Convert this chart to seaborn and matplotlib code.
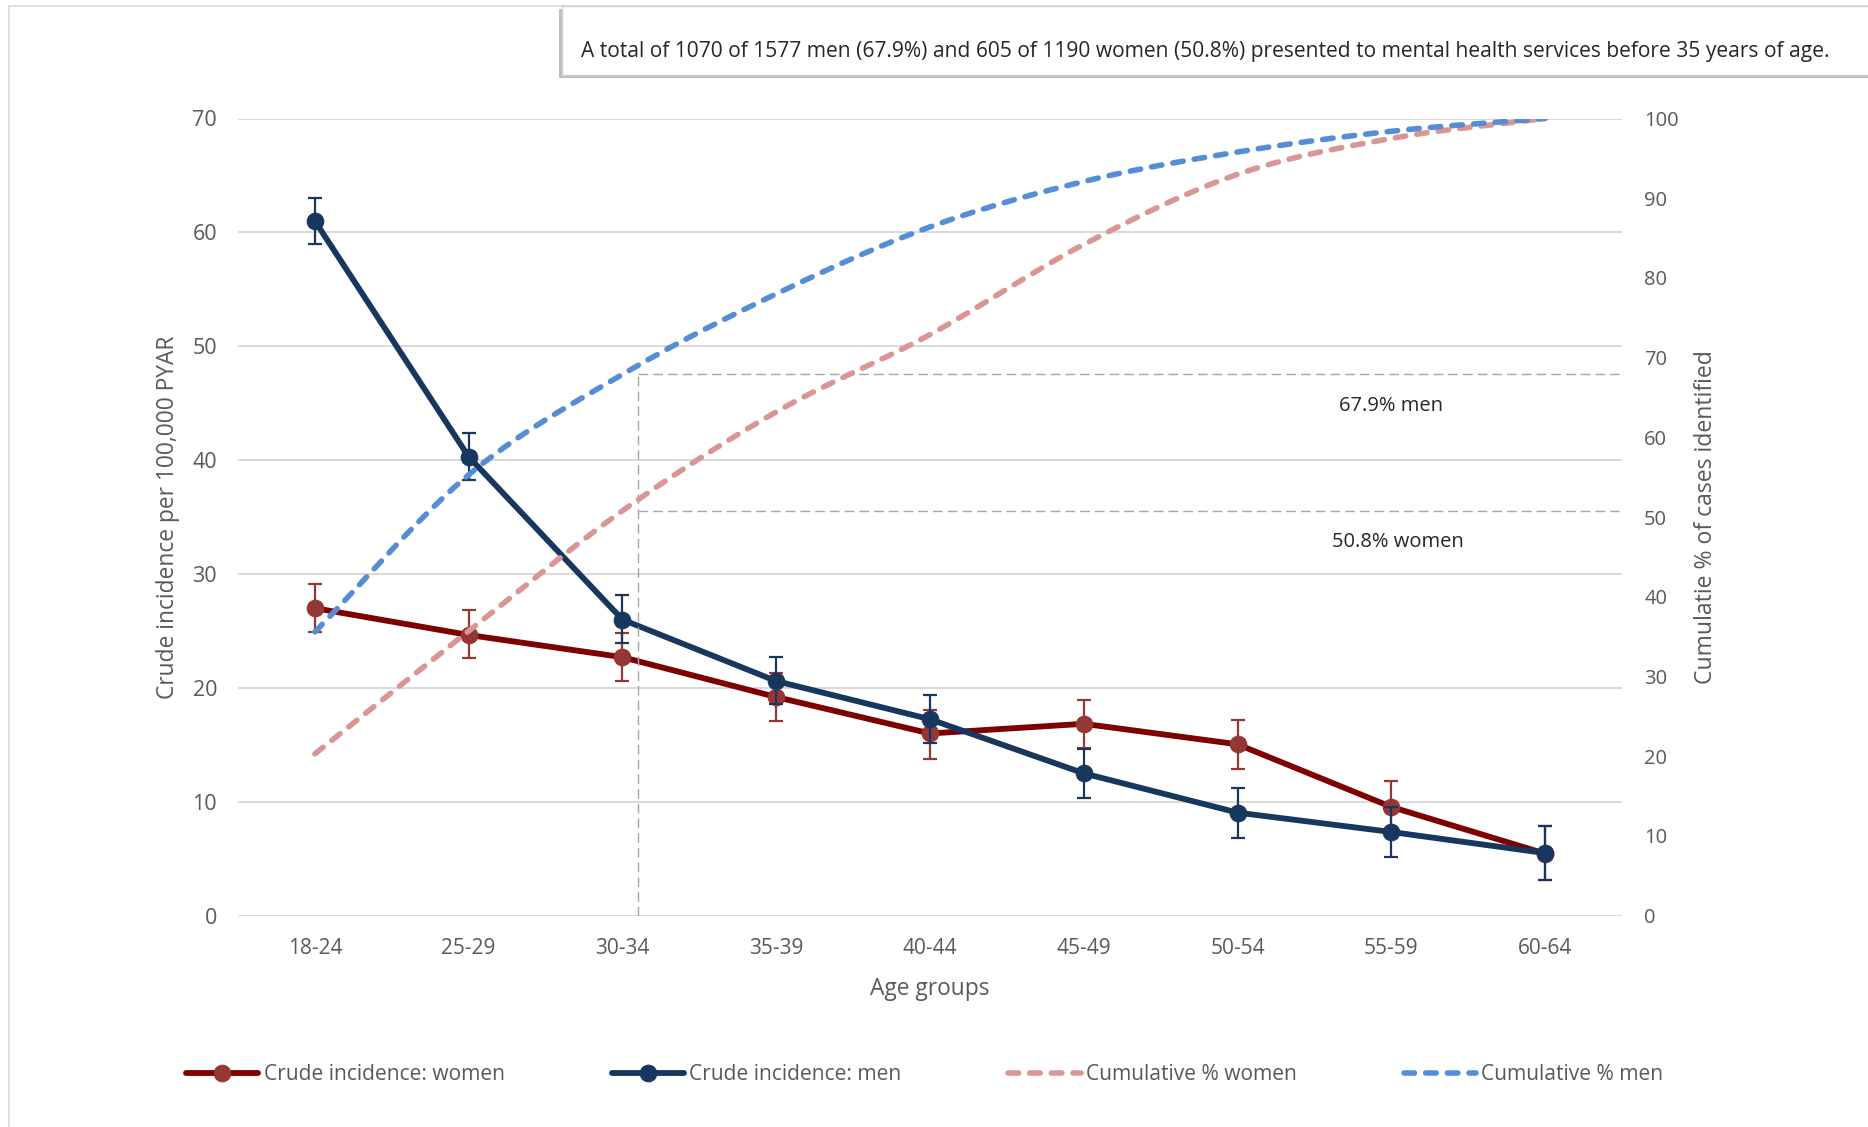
import numpy as np
import pandas as pd
import matplotlib
matplotlib.use("Agg")
import matplotlib.pyplot as plt
import seaborn as sns
from matplotlib.patches import Rectangle

# ---- data ---------------------------------------------------------------
age_groups = ["18-24", "25-29", "30-34", "35-39", "40-44",
              "45-49", "50-54", "55-59", "60-64"]

women_rate = [27.0, 24.65, 22.7, 19.2, 16.0, 16.85, 15.05, 9.55, 5.45]
women_lo = [24.9, 22.6, 20.6, 17.1, 13.8, 14.7, 12.9, 7.3, 3.1]
women_hi = [29.1, 26.8, 24.85, 21.3, 18.05, 18.95, 17.2, 11.85, 7.85]

men_rate = [61.0, 40.3, 26.0, 20.6, 17.25, 12.5, 9.05, 7.35, 5.5]
men_lo = [59.0, 38.25, 23.95, 18.55, 15.15, 10.35, 6.8, 5.15, 3.1]
men_hi = [63.05, 42.4, 28.2, 22.7, 19.35, 14.65, 11.2, 9.55, 7.9]

cum_women = [20.3, 35.7, 50.8, 63.2, 72.9, 84.2, 93.0, 97.5, 100.0]
cum_men = [35.6, 55.3, 67.9, 78.0, 86.4, 92.1, 95.8, 98.4, 100.0]

share_men = 67.9
share_women = 50.8

note = ("A total of 1070 of 1577 men (67.9%) and 605 of 1190 women (50.8%) "
        "presented to mental health services before 35 years of age.")

# ---- style --------------------------------------------------------------
RED_LINE = "#7F0000"
RED_MARK = "#953735"
NAVY = "#17375E"
PINK = "#DA9694"
BLUE = "#558ED5"
GRID = "#D9D9D9"
TEXT = "#595959"
GUIDE = "#A6A6A6"

sns.set_theme(style="white")
plt.rcParams["font.family"] = ["Open Sans", "DejaVu Sans"]

W, H = 1868, 1127
fig = plt.figure(figsize=(W / 100, H / 100), dpi=100)
ax = fig.add_axes([238 / W, 1 - 915.7 / H, (1622 - 238) / W, (915.7 - 118.5) / H])
ax2 = ax.twinx()

pos = np.arange(len(age_groups))
df = pd.DataFrame({
    "pos": pos,
    "women": women_rate, "women_lo": women_lo, "women_hi": women_hi,
    "men": men_rate, "men_lo": men_lo, "men_hi": men_hi,
    "cum_women": cum_women, "cum_men": cum_men,
})


def smooth(xs, ys, steps=24):
    """Catmull-Rom curve through the points (the usual spreadsheet 'smoothed line')."""
    xs = np.asarray(xs, float)
    ys = np.asarray(ys, float)
    px = np.concatenate([[2 * xs[0] - xs[1]], xs, [2 * xs[-1] - xs[-2]]])
    py = np.concatenate([[2 * ys[0] - ys[1]], ys, [2 * ys[-1] - ys[-2]]])
    out_x, out_y = [], []
    t = np.linspace(0, 1, steps, endpoint=False)
    for i in range(1, len(px) - 2):
        for arr, out in ((px, out_x), (py, out_y)):
            p0, p1, p2, p3 = arr[i - 1], arr[i], arr[i + 1], arr[i + 2]
            out.extend(0.5 * ((2 * p1) + (-p0 + p2) * t
                              + (2 * p0 - 5 * p1 + 4 * p2 - p3) * t ** 2
                              + (-p0 + 3 * p1 - 3 * p2 + p3) * t ** 3))
    out_x.append(xs[-1])
    out_y.append(ys[-1])
    return pd.DataFrame({"pos": out_x, "val": out_y})


# ---- incidence (left axis) ------------------------------------------------
for key, line_c, mark_c, label, z in (
        ("women", RED_LINE, RED_MARK, "Crude incidence: women", 3),
        ("men", NAVY, NAVY, "Crude incidence: men", 5)):
    ax.errorbar(df["pos"], df[key],
                yerr=[df[key] - df[key + "_lo"], df[key + "_hi"] - df[key]],
                fmt="none", ecolor=mark_c, elinewidth=1.6, capsize=5,
                capthick=1.6, zorder=z)
    sns.lineplot(data=df, x="pos", y=key, ax=ax, color=line_c, lw=4.2,
                 marker="o", markersize=12, markerfacecolor=mark_c,
                 markeredgecolor=mark_c, label=label, zorder=z + 1,
                 legend=False)

# ---- cumulative share (right axis) ---------------------------------------
for key, col, label in (("cum_women", PINK, "Cumulative % women"),
                        ("cum_men", BLUE, "Cumulative % men")):
    curve = smooth(df["pos"], df[key])
    sns.lineplot(data=curve, x="pos", y="val", ax=ax2, color=col, lw=4.0,
                 sort=False, estimator=None, label=label, legend=False,
                 dashes=False)
    ln = ax2.get_lines()[-1]
    ln.set_dashes((1.9, 2.0))
    ln.set_dash_capstyle("round")

# guide lines at the share presenting before age 35
gx = 2.1
guide_kw = dict(color=GUIDE, lw=1.0, dashes=(7, 3.6), zorder=1)
ax2.plot([gx, gx], [0, share_men], **guide_kw)
ax2.plot([gx, 8.48], [share_men, share_men], **guide_kw)
ax2.plot([gx, 8.48], [share_women, share_women], **guide_kw)
ax2.text(7.0, share_men - 4.0, f"{share_men}% men", ha="center", va="center",
         fontsize=14.5, color="#262626")
ax2.text(7.04, share_women - 3.9, f"{share_women}% women", ha="center",
         va="center", fontsize=14.5, color="#262626")

# ---- axes ---------------------------------------------------------------
ax.set_xlim(-0.5, len(age_groups) - 0.5)
ax.set_ylim(0, 70)
ax.set_yticks(range(0, 71, 10))
ax.set_xticks(pos)
ax.set_xticklabels(age_groups)
ax2.set_ylim(0, 100)
ax2.set_yticks(range(0, 101, 10))

ax.grid(axis="y", color=GRID, lw=1.4)
ax.grid(axis="x", visible=False)
ax2.grid(False)
ax.set_axisbelow(True)
for a in (ax, ax2):
    for s in a.spines.values():
        s.set_visible(False)
    a.tick_params(length=0, colors=TEXT)

ax.tick_params(axis="y", labelsize=15.5, pad=15)
ax.tick_params(axis="x", labelsize=15, pad=16)
ax2.tick_params(axis="y", labelsize=14.5, pad=16)

ax.set_xlabel("Age groups", fontsize=16.4, color=TEXT, va="center")
ax.xaxis.set_label_coords(0.5, -0.0915)
ax.set_ylabel("Crude incidence per 100,000 PYAR", fontsize=16.4, color=TEXT,
              va="center")
ax.yaxis.set_label_coords(-0.0506, 0.5)
ax2.set_ylabel("Cumulatie % of cases identified", fontsize=16.6, color=TEXT,
               va="center")
ax2.yaxis.set_label_coords(1.0607, 0.5)

# ---- legend -------------------------------------------------------------
h1, l1 = ax.get_legend_handles_labels()
h2, l2 = ax2.get_legend_handles_labels()
leg = fig.legend(h1 + h2, l1 + l2, loc="center left",
                 bbox_to_anchor=(186 / W, 1 - 1075 / H), ncol=4, frameon=False,
                 fontsize=15.1, handlelength=3.45, handletextpad=0.25,
                 columnspacing=5.1, borderaxespad=0, borderpad=0)
for t in leg.get_texts():
    t.set_color(TEXT)

# ---- chart frame and note box -----------------------------------------------
fig.patches.append(Rectangle((9 / W, -0.05), 1.1, 1 - 6 / H + 0.05,
                             transform=fig.transFigure, fill=False,
                             edgecolor=GRID, lw=1.2, zorder=0))
fig.patches.append(Rectangle((559 / W, 1 - 78 / H), 1.1, 69 / H,
                             transform=fig.transFigure, facecolor="#BFBFBF",
                             edgecolor="none", zorder=1))
fig.patches.append(Rectangle((562 / W, 1 - 75 / H), 1.1, 69 / H,
                             transform=fig.transFigure, facecolor="white",
                             edgecolor="#D0D0D0", lw=1.0, zorder=2))
fig.text(581 / W, 1 - 52 / H, note, ha="left", va="center", fontsize=15.1,
         color="#262626", zorder=3)

fig.savefig("out.png", dpi=100)
